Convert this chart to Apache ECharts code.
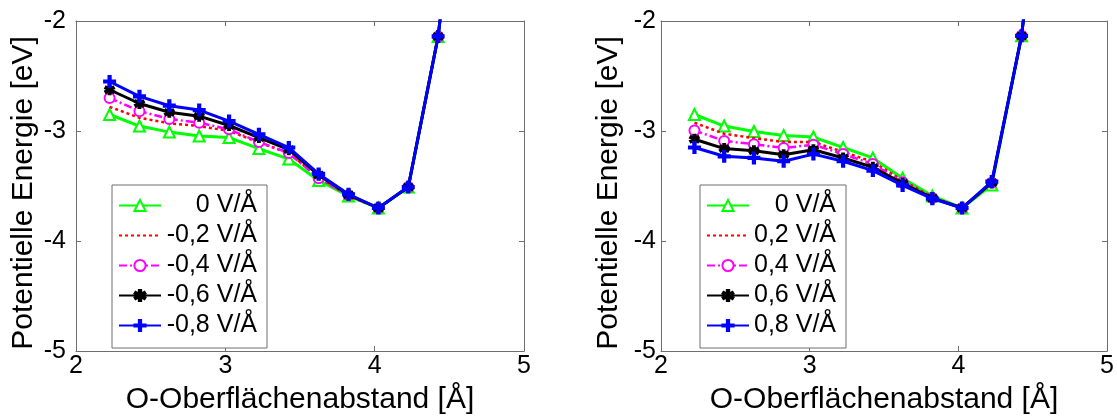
<!DOCTYPE html>
<html><head><meta charset="utf-8">
<script src="https://cdn.jsdelivr.net/npm/echarts@6/dist/echarts.min.js"></script>
<style>html,body{margin:0;padding:0;background:#fff}#c{width:1117px;height:420px}</style>
</head><body><div id="c"></div>
<script>
// O-surface distance [Å]
var xs = [2.225, 2.425, 2.625, 2.825, 3.025, 3.225, 3.425, 3.625, 3.825, 4.025, 4.225, 4.425, 4.625];
// left panel (negative fields)
var namesL = ['0 V/Å', '-0,2 V/Å', '-0,4 V/Å', '-0,6 V/Å', '-0,8 V/Å'];
var L0  = [-2.85, -2.955, -3.01, -3.045, -3.06, -3.16, -3.255, -3.45, -3.59, -3.70, -3.51, -2.14, 0.2];
var L02 = [-2.78, -2.88, -2.93, -2.955, -3.00, -3.105, -3.20, -3.42, -3.59, -3.70, -3.51, -2.14, 0.2];
var L04 = [-2.70, -2.82, -2.89, -2.925, -2.985, -3.10, -3.20, -3.43, -3.585, -3.70, -3.51, -2.14, 0.2];
var L06 = [-2.625, -2.75, -2.83, -2.865, -2.95, -3.06, -3.17, -3.40, -3.58, -3.70, -3.51, -2.14, 0.2];
var L08 = [-2.55, -2.685, -2.77, -2.81, -2.91, -3.03, -3.15, -3.39, -3.575, -3.70, -3.51, -2.14, 0.2];
// right panel (positive fields)
var namesR = ['0 V/Å', '0,2 V/Å', '0,4 V/Å', '0,6 V/Å', '0,8 V/Å'];
var R0  = [-2.85, -2.955, -3.005, -3.04, -3.055, -3.15, -3.245, -3.43, -3.59, -3.70, -3.49, -2.135, 0.2];
var R02 = [-2.925, -3.025, -3.065, -3.10, -3.10, -3.19, -3.28, -3.45, -3.60, -3.70, -3.47, -2.135, 0.2];
var R04 = [-2.995, -3.09, -3.12, -3.155, -3.125, -3.21, -3.30, -3.465, -3.61, -3.70, -3.47, -2.135, 0.2];
var R06 = [-3.075, -3.16, -3.18, -3.215, -3.17, -3.245, -3.33, -3.475, -3.61, -3.70, -3.47, -2.135, 0.2];
var R08 = [-3.15, -3.23, -3.245, -3.275, -3.21, -3.275, -3.36, -3.495, -3.615, -3.70, -3.46, -2.135, 0.2];
var xTicks = [2, 3, 4, 5];
var yTicks = [-5, -4, -3, -2];
var xName = 'O-Oberflächenabstand [Å]';
var yName = 'Potentielle Energie [eV]';

var FONT = '"Liberation Sans", Arial, sans-serif';
var AX = '#6e6e6e';
var STAR = 'path://M-1,-5L1,-5L1,5L-1,5Z M3.83,3.366L4.83,1.634L-3.83,-3.366L-4.83,-1.634Z M-4.83,1.634L-3.83,3.366L4.83,-1.634L3.83,-3.366Z';
var PLUS = 'path://M-1,-5h2v4h4v2h-4v4h-2v-4h-4v-2h4z';

var styles = [
  {color: '#00ff00', type: 'solid', width: 3, symbol: 'emptyTriangle', size: 11},
  {color: '#ff0000', type: [3, 3], width: 2.5, symbol: 'none', size: 0},
  {color: '#ff00ff', type: [8, 3, 2, 3], width: 2.5, symbol: 'emptyCircle', size: 10},
  {color: '#000000', type: 'solid', width: 3, symbol: STAR, size: 9},
  {color: '#0000ff', type: 'solid', width: 3, symbol: PLUS, size: 11}
];

function pairs(ys) { return xs.map(function (x, i) { return [x, ys[i]]; }); }

function mkSeries(names, sets, gi) {
  return sets.map(function (ys, k) {
    var s = styles[k];
    return {
      type: 'line', name: names[k], xAxisIndex: gi * 2, yAxisIndex: gi * 2,
      data: pairs(ys), clip: true, animation: false,
      symbol: s.symbol, symbolSize: s.size, showSymbol: s.symbol !== 'none',
      lineStyle: {color: s.color, width: s.width, type: s.type},
      itemStyle: {color: s.color, borderColor: s.color, borderWidth: 2},
      z: 2 + k
    };
  });
}

function xAxes(gi) {
  return [{
    type: 'value', gridIndex: gi, min: xTicks[0], max: xTicks[xTicks.length - 1], interval: 1,
    position: 'bottom',
    name: xName, nameLocation: 'middle', nameGap: 34,
    nameTextStyle: {fontFamily: FONT, fontSize: 30, color: '#000'},
    axisLine: {show: true, lineStyle: {color: AX, width: 1}},
    axisTick: {show: true, inside: true, length: 5, lineStyle: {color: AX}},
    axisLabel: {fontFamily: FONT, fontSize: 25, color: '#000', margin: 3},
    splitLine: {show: false}
  }, {
    type: 'value', gridIndex: gi, min: xTicks[0], max: xTicks[xTicks.length - 1], interval: 1,
    position: 'top',
    axisLine: {show: true, lineStyle: {color: AX, width: 1}},
    axisTick: {show: true, inside: true, length: 5, lineStyle: {color: AX}},
    axisLabel: {show: false}, splitLine: {show: false}
  }];
}
function yAxes(gi, margin) {
  return [{
    type: 'value', gridIndex: gi, min: yTicks[0], max: yTicks[yTicks.length - 1], interval: 1,
    position: 'left',
    name: yName, nameLocation: 'middle', nameGap: 37, nameRotate: 90,
    nameTextStyle: {fontFamily: FONT, fontSize: 30, color: '#000', padding: [0, 14, 0, 0]},
    axisLine: {show: true, lineStyle: {color: AX, width: 1}},
    axisTick: {show: true, inside: true, length: 5, lineStyle: {color: AX}},
    axisLabel: {fontFamily: FONT, fontSize: 25, color: '#000', margin: margin},
    splitLine: {show: false}
  }, {
    type: 'value', gridIndex: gi, min: yTicks[0], max: yTicks[yTicks.length - 1], interval: 1,
    position: 'right',
    axisLine: {show: true, lineStyle: {color: AX, width: 1}},
    axisTick: {show: true, inside: true, length: 5, lineStyle: {color: AX}},
    axisLabel: {show: false}, splitLine: {show: false}
  }];
}

function legend(names, left, tw) {
  var data = names.map(function (n, k) {
    var d = {name: n};
    if (styles[k].symbol === 'none') d.itemStyle = {opacity: 0};
    if (k === 0) d.itemStyle = {color: styles[0].color, borderColor: styles[0].color};
    return d;
  });
  return {
    orient: 'vertical', left: left, top: 185,
    data: data, itemWidth: 42, itemHeight: 14, itemGap: 5,
    padding: [8, 10, 10, 6],
    backgroundColor: '#fff', borderColor: AX, borderWidth: 1, borderRadius: 0,
    selectedMode: false,
    formatter: function (n) { return '{t|' + n + '}'; },
    textStyle: {fontFamily: FONT, fontSize: 25, color: '#000',
      rich: {t: {fontFamily: FONT, fontSize: 25, color: '#000', width: tw, align: 'right', lineHeight: 25}}}
  };
}

var chart = echarts.init(document.getElementById('c'), null, {renderer: 'canvas'});
chart.setOption({
  animation: false,
  backgroundColor: '#fff',
  grid: [
    {left: 76, right: 593, top: 21, bottom: 67, containLabel: false},
    {left: 661, right: 7, top: 21, bottom: 67, containLabel: false}
  ],
  xAxis: xAxes(0).concat(xAxes(1)),
  yAxis: yAxes(0, 10).concat(yAxes(1, 5)),
  legend: [legend(namesL, 112, 91), legend(namesR, 700, 82)],
  series: mkSeries(namesL, [L0, L02, L04, L06, L08], 0)
    .concat(mkSeries(namesR, [R0, R02, R04, R06, R08], 1))
});
</script></body></html>
